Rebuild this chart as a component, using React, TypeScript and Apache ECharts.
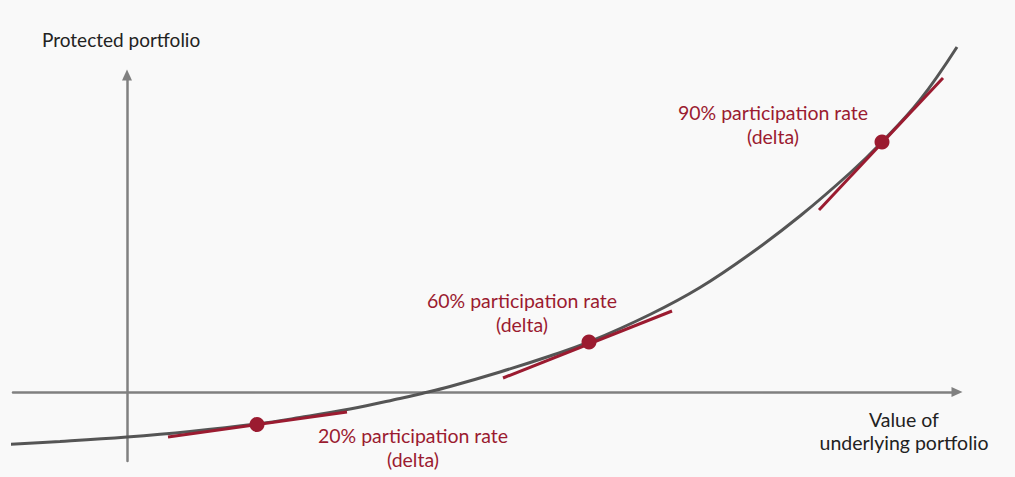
import React, { useEffect, useRef } from "react";
import * as echarts from "echarts";

// Underlying portfolio value (x) vs protected portfolio value (y), in chart units
const curveX = [-120, -67, 0, 63, 130, 173, 223, 273, 295, 323, 373, 423, 462, 523, 573, 623, 673, 723, 755, 793, 830];
const curveY = [-52.5, -49.5, -45, -39.5, -32, -25.5, -17, -6.5, -1.5, 5.5, 20, 36, 50, 77.5, 104.5, 138, 176, 219, 250, 292, 345];

// Participation-rate points on the curve
const dotX = [130, 462, 755];
const dotY = [-32.5, 50, 250];

// Tangent (delta) segments
const tangentX1 = [41, 376, 692];
const tangentY1 = [-45, 14, 182];
const tangentX2 = [220, 545, 816];
const tangentY2 = [-20, 81, 314];

const deltaLabels = ["20% participation rate\n(delta)", "60% participation rate\n(delta)", "90% participation rate\n(delta)"];
const yAxisTitle = "Protected portfolio";
const xAxisTitle = "Value of\nunderlying portfolio";

const RED = "#9b1b30";
const GREY_CURVE = "#555555";
const GREY_AXIS = "#808080";
const FONT = "Lato";

export default function App() {
  const ref = useRef<HTMLDivElement>(null);
  useEffect(() => {
    if (!ref.current) return;
    const chart = echarts.init(ref.current, undefined, { renderer: "svg" });
    const curveData = curveX.map((x, i) => [x, curveY[i]]);
    const dotData = dotX.map((x, i) => [x, dotY[i]]);
    const tangentSeries = tangentX1.map((x, i) => ({
      type: "line",
      data: [
        [x, tangentY1[i]],
        [tangentX2[i], tangentY2[i]],
      ],
      showSymbol: false,
      symbol: "none",
      clip: false,
      lineStyle: { color: RED, width: 3 },
      z: 4,
      silent: true,
    }));
    const labelPos = [
      [413, 447],
      [522, 312],
      [773, 124],
    ];
    chart.setOption({
      animation: false,
      backgroundColor: "#f9f9f9",
      grid: { left: 13, right: 58, top: 75, bottom: 16, containLabel: false },
      xAxis: {
        type: "value",
        min: -114,
        max: 830,
        axisLine: {
          show: true,
          onZero: true,
          symbol: ["none", "triangle"],
          symbolSize: [10, 11],
          lineStyle: { color: GREY_AXIS, width: 2.5 },
        },
        axisTick: { show: false },
        axisLabel: { show: false },
        splitLine: { show: false },
      },
      yAxis: {
        type: "value",
        min: -69,
        max: 317,
        axisLine: {
          show: true,
          onZero: true,
          symbol: ["none", "triangle"],
          symbolSize: [10, 11],
          lineStyle: { color: GREY_AXIS, width: 2.5 },
        },
        axisTick: { show: false },
        axisLabel: { show: false },
        splitLine: { show: false },
      },
      series: [
        {
          type: "line",
          data: curveData,
          smooth: 0.4,
          showSymbol: false,
          symbol: "none",
          clip: false,
          lineStyle: { color: GREY_CURVE, width: 3 },
          z: 3,
          silent: true,
        },
        ...tangentSeries,
        {
          type: "scatter",
          data: dotData,
          symbolSize: 15,
          itemStyle: { color: RED, opacity: 1 },
          z: 5,
          silent: true,
        },
      ],
      graphic: [
        {
          type: "text",
          left: 42,
          top: 30,
          style: { text: yAxisTitle, fontFamily: FONT, fontSize: 19, fill: "#222222" },
        },
        {
          type: "text",
          x: 904,
          y: 431,
          style: {
            text: xAxisTitle,
            fontFamily: FONT,
            fontSize: 19.5,
            lineHeight: 23,
            fill: "#222222",
            align: "center",
            verticalAlign: "middle",
          },
        },
        ...deltaLabels.map((t, i) => ({
          type: "text",
          x: labelPos[i][0],
          y: labelPos[i][1],
          style: {
            text: t,
            fontFamily: FONT,
            fontSize: 19.5,
            lineHeight: 24,
            fill: RED,
            align: "center",
            verticalAlign: "middle",
          },
        })),
      ],
    });
    return () => chart.dispose();
  }, []);
  return (
    <div
      ref={ref}
      style={{ position: "fixed", left: 0, top: 0, width: 1015, height: 477 }}
    />
  );
}
